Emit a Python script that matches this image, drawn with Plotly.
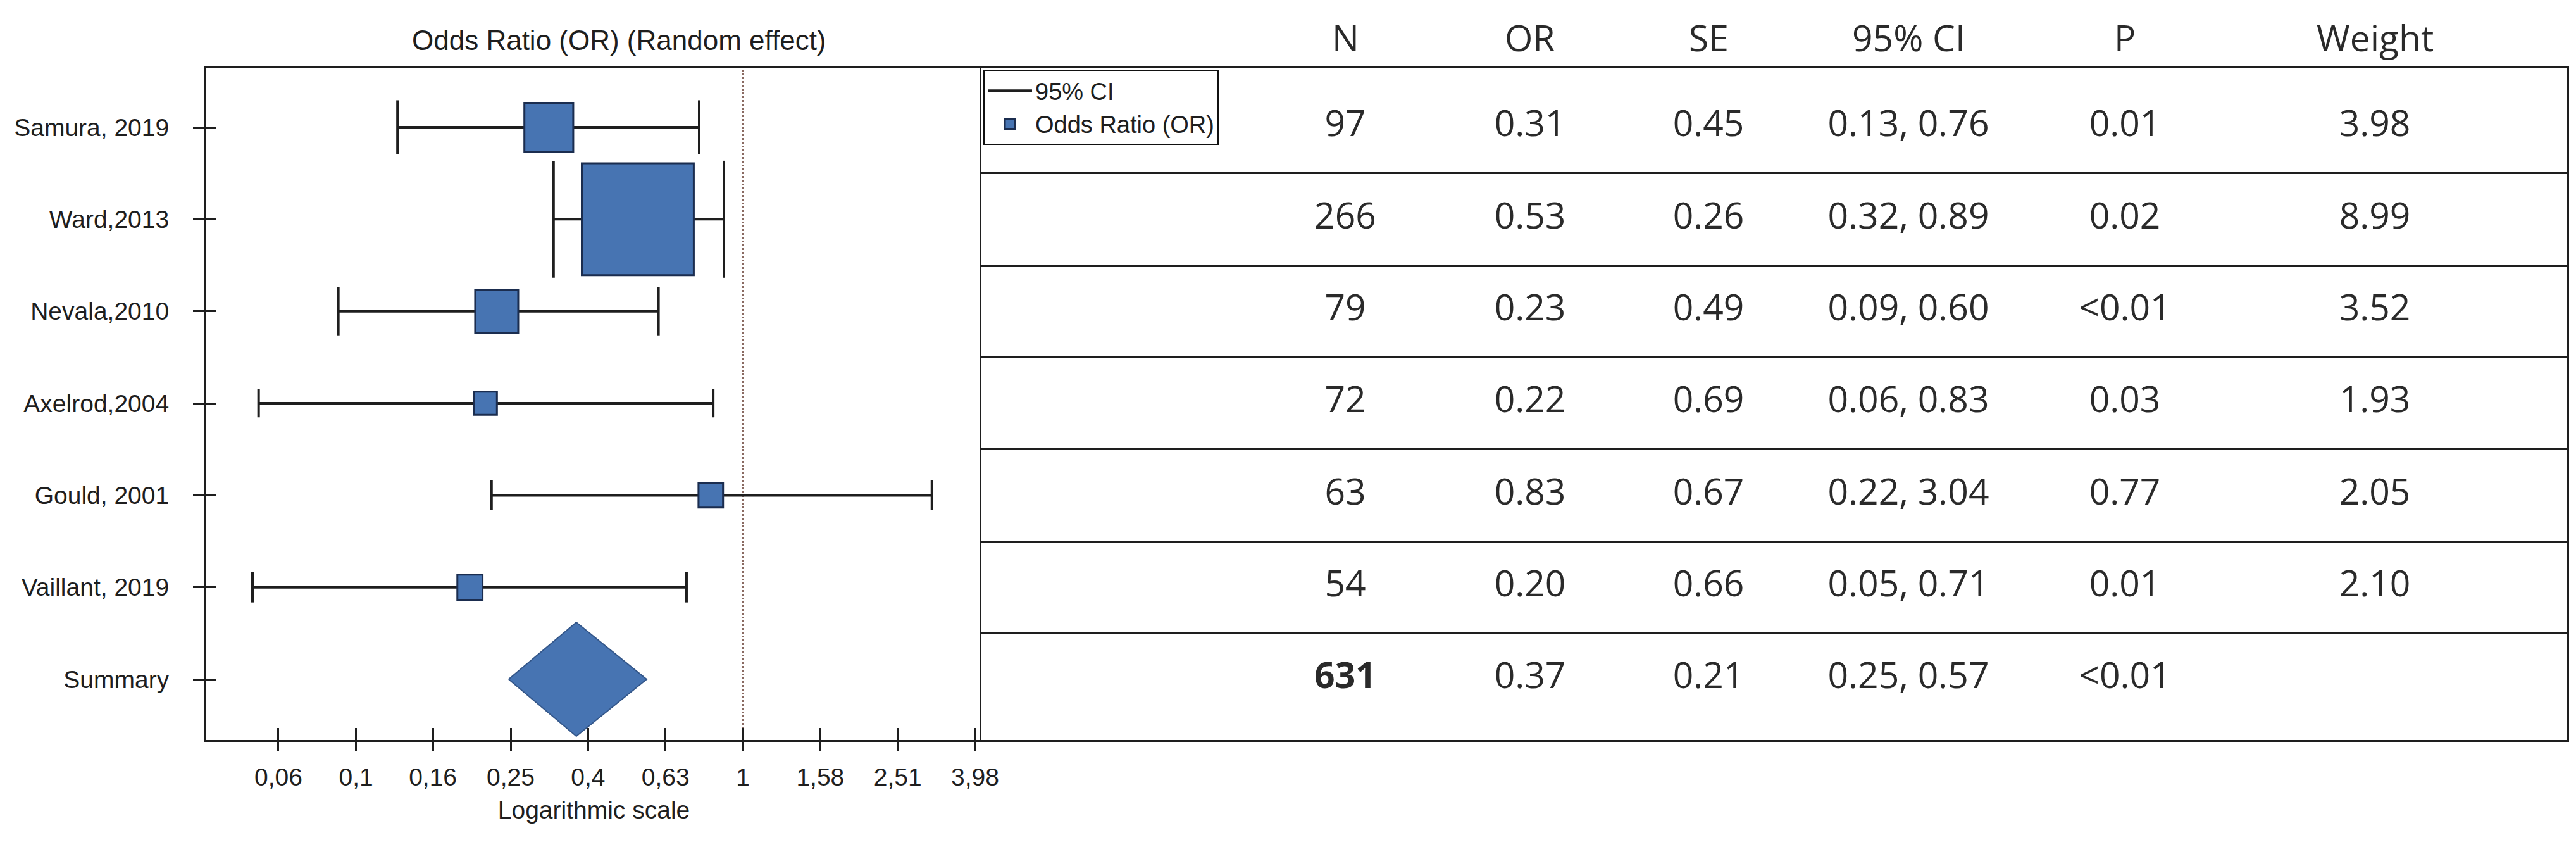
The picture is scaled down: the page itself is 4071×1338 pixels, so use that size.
import plotly.graph_objects as go

# ---------------- data ----------------
study_labels = ["Samura, 2019", "Ward,2013", "Nevala,2010", "Axelrod,2004", "Gould, 2001", "Vaillant, 2019"]
summary_label = "Summary"
odds_ratio = [0.315, 0.535, 0.231, 0.216, 0.826, 0.197]
ci_low = [0.128, 0.324, 0.090, 0.056, 0.224, 0.054]
ci_high = [0.771, 0.893, 0.605, 0.838, 3.08, 0.715]
weight = [3.98, 8.99, 3.52, 1.93, 2.05, 2.10]
summary_or = 0.371
summary_low = 0.248
summary_high = 0.564

x_tick_values = [0.063, 0.1, 0.158, 0.251, 0.398, 0.631, 1.0, 1.585, 2.512, 3.981]
x_tick_labels = ["0,06", "0,1", "0,16", "0,25", "0,4", "0,63", "1", "1,58", "2,51", "3,98"]

table_headers = ["N", "OR", "SE", "95% CI", "P", "Weight"]
col_n = ["97", "266", "79", "72", "63", "54", "<b>631</b>"]
col_or = ["0.31", "0.53", "0.23", "0.22", "0.83", "0.20", "0.37"]
col_se = ["0.45", "0.26", "0.49", "0.69", "0.67", "0.66", "0.21"]
col_ci = ["0.13, 0.76", "0.32, 0.89", "0.09, 0.60", "0.06, 0.83", "0.22, 3.04", "0.05, 0.71", "0.25, 0.57"]
col_p = ["0.01", "0.02", "<0.01", "0.03", "0.77", "0.01", "<0.01"]
col_weight = ["3.98", "8.99", "3.52", "1.93", "2.05", "2.10", ""]

# ---------------- layout constants (pixels) ----------------
W, H = 4071, 1338
PLOT_L, PLOT_R, TABLE_R = 318, 1543, 4049
PLOT_T, PLOT_B = 100, 1161
Y_RANGE = [6.66, -0.64]
ROW_PX = (PLOT_B - PLOT_T) / (Y_RANGE[0] - Y_RANGE[1])
X_LOG_RANGE = [-1.387, 0.6165]
COL_X = [2118, 2410, 2692, 3008, 3350, 3745]
HEADER_Y_PX = 51
TITLE_Y_PX = 55
BOX_PX_PER_WEIGHT = 19.9
CAP_EXTRA_PX = 3
DIAMOND_HALF_PX = 90

BLUE = "#4774B2"
BORDER = "#1B2D4F"
INK = "#1e1e1e"
TABLE_INK = "#2a2a2a"
LABEL_FONT = "Liberation Sans, Arial, sans-serif"
TABLE_FONT = "Open Sans, Noto Sans, sans-serif"

y_dom = [1 - PLOT_B / H, 1 - PLOT_T / H]
rows = list(range(len(study_labels)))
summary_row = len(study_labels)

fig = go.Figure()

# 95% CI lines with end caps (one trace, segments separated by None) - main subplot (x, y)
ci_x, ci_y = [], []
for r, lo, hi, w in zip(rows, ci_low, ci_high, weight):
    cap = (w * BOX_PX_PER_WEIGHT / 2 + CAP_EXTRA_PX) / ROW_PX
    ci_x += [lo, hi, None, lo, lo, None, hi, hi, None]
    ci_y += [r, r, None, r - cap, r + cap, None, r - cap, r + cap, None]
fig.add_trace(go.Scatter(
    x=ci_x, y=ci_y, mode="lines", name="95% CI",
    line=dict(color=INK, width=4), hoverinfo="skip",
))

# Odds ratio boxes, sized by weight - overlay subplot (x3, y3) drawn above the CI lines
fig.add_trace(go.Scatter(
    x=odds_ratio, y=rows, mode="markers", name="Odds Ratio (OR)",
    xaxis="x3", yaxis="y3",
    marker=dict(symbol="square", color=BLUE, opacity=1,
                size=[w * BOX_PX_PER_WEIGHT - 2 for w in weight],
                line=dict(color=BORDER, width=3)),
))

# Summary diamond
dh = DIAMOND_HALF_PX / ROW_PX
fig.add_trace(go.Scatter(
    x=[summary_low, summary_or, summary_high, summary_or, summary_low],
    y=[summary_row, summary_row - dh, summary_row, summary_row + dh, summary_row],
    xaxis="x3", yaxis="y3",
    mode="lines", fill="toself", fillcolor=BLUE,
    line=dict(color="#34578a", width=2), showlegend=False, hoverinfo="skip",
))

# Table columns
columns = [col_n, col_or, col_se, col_ci, col_p, col_weight]
for cx, col in zip(COL_X, columns):
    fig.add_trace(go.Scatter(
        x=[cx] * len(col), y=list(range(len(col))), text=col, mode="text",
        textposition="middle center",
        textfont=dict(family=TABLE_FONT, size=57, color=TABLE_INK),
        xaxis="x2", yaxis="y2", showlegend=False, hoverinfo="skip",
    ))

# Table headers
for cx, head in zip(COL_X, table_headers):
    fig.add_annotation(
        x=cx, xref="x2", y=1 - HEADER_Y_PX / H, yref="paper",
        text=head, showarrow=False, xanchor="center", yanchor="middle",
        font=dict(family=TABLE_FONT, size=57, color=TABLE_INK),
    )

# Chart title
fig.add_annotation(
    x=970 / W, xref="paper", y=1 - TITLE_Y_PX / H, yref="paper",
    text="Odds Ratio (OR) (Random effect)", showarrow=False,
    xanchor="center", yanchor="middle",
    font=dict(family=LABEL_FONT, size=44, color=INK),
)

# Reference line at OR = 1
fig.add_shape(type="line", xref="x", x0=1, x1=1, yref="y domain", y0=0, y1=1,
              line=dict(color="#8a6a62", width=3, dash="dot"), layer="below")

axis_common = dict(showgrid=False, zeroline=False)

fig.update_layout(
    width=W, height=H,
    margin=dict(l=0, r=0, t=0, b=0, autoexpand=False),
    template="none",
    paper_bgcolor="white", plot_bgcolor="white",
    showlegend=True,
    legend=dict(x=1546 / W, y=1 - 102 / H, xanchor="left", yanchor="top",
                bgcolor="white", bordercolor="#111", borderwidth=2,
                font=dict(family=LABEL_FONT, size=38, color=INK),
                itemwidth=70, traceorder="normal"),
    xaxis=dict(
        type="log", range=X_LOG_RANGE, domain=[PLOT_L / W, PLOT_R / W], anchor="y",
        tickvals=x_tick_values, ticktext=x_tick_labels,
        ticks="outside", ticklen=14, tickwidth=3, tickcolor=INK,
        showline=True, mirror=True, linecolor=INK, linewidth=3,
        tickfont=dict(family=LABEL_FONT, size=39, color=INK),
        ticklabelstandoff=8,
        title=dict(text="Logarithmic scale", standoff=18,
                   font=dict(family=LABEL_FONT, size=39, color=INK)),
        **axis_common,
    ),
    xaxis3=dict(
        type="log", range=X_LOG_RANGE, overlaying="x", anchor="y",
        tickvals=x_tick_values, ticks="inside", ticklen=19, tickwidth=3,
        tickcolor=INK, showticklabels=False, showline=False, **axis_common,
    ),
    yaxis=dict(
        range=Y_RANGE, domain=y_dom, anchor="x",
        tickvals=rows + [summary_row], ticktext=study_labels + [summary_label],
        ticks="outside", ticklen=18, tickwidth=3, tickcolor=INK,
        showline=True, mirror=False, linecolor=INK, linewidth=3,
        tickfont=dict(family=LABEL_FONT, size=39, color=INK),
        ticklabelstandoff=30,
        **axis_common,
    ),
    yaxis3=dict(
        range=Y_RANGE, overlaying="y", anchor="x",
        tickvals=rows + [summary_row], ticks="inside", ticklen=15, tickwidth=3,
        tickcolor=INK, showticklabels=False, showline=False, **axis_common,
    ),
    xaxis2=dict(
        range=[PLOT_R, TABLE_R], domain=[PLOT_R / W, TABLE_R / W], anchor="y2",
        showline=True, mirror=True, linecolor=INK, linewidth=3,
        showticklabels=False, ticks="", showgrid=False, zeroline=False,
    ),
    yaxis2=dict(
        range=Y_RANGE, domain=y_dom, anchor="x2",
        showline=True, mirror=True, linecolor=INK, linewidth=3,
        tickvals=[r + 0.5 for r in rows], showticklabels=False, ticks="",
        showgrid=True, gridcolor=INK, gridwidth=3, zeroline=False,
    ),
)

fig.write_html("out.html")
